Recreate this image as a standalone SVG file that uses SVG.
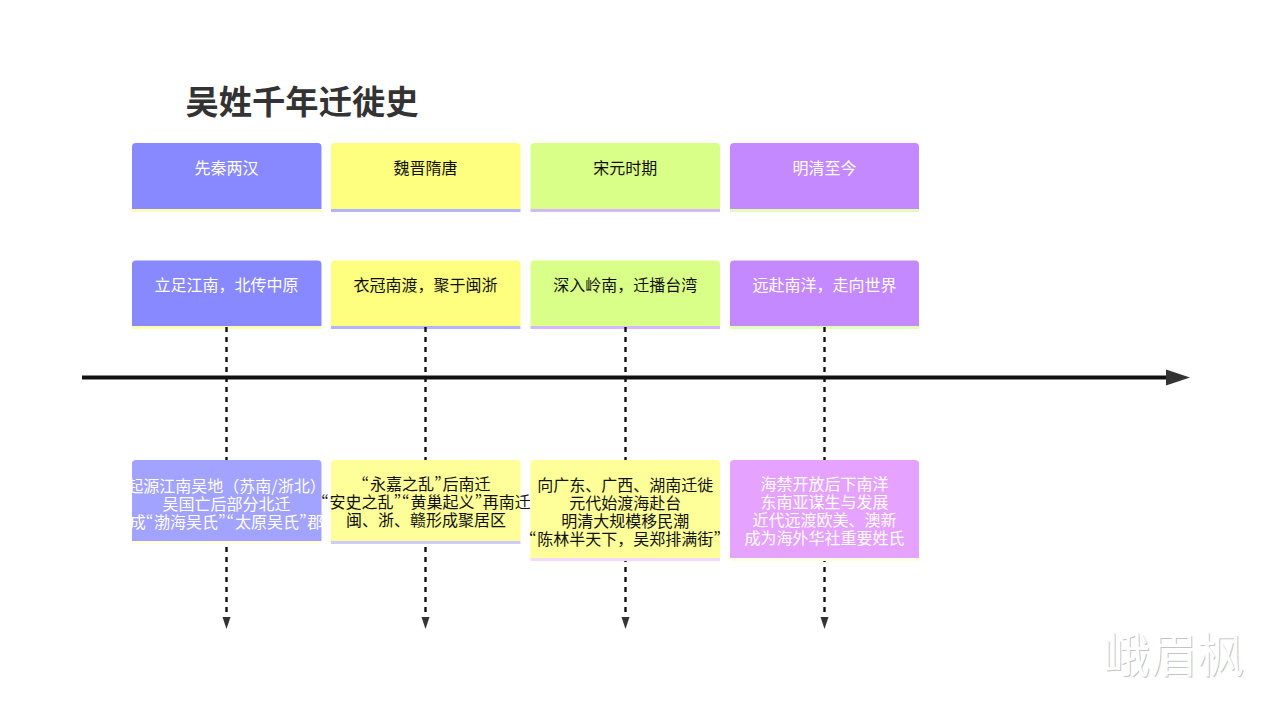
<svg xmlns="http://www.w3.org/2000/svg" width="1268" height="709" viewBox="0 0 1268 709">
<style>
text{font-family:"Noto Sans CJK SC","Noto Sans",sans-serif;font-size:16px;text-anchor:middle}
.w{fill:#fff}.k{fill:#111}
.q{font-feature-settings:"pwid";letter-spacing:.8px}
.dash{stroke:#111;stroke-width:2.400;stroke-dasharray:5 5;fill:none}
</style>
<rect width="1268" height="709" fill="#fff"/>
<text id="title" x="302" y="114" style="font-size:33.300px;font-weight:700;fill:#333">吴姓千年迁徙史</text>
<g id="n1"><rect x="132" y="209" width="189.500" height="3" fill="#ffffb3"/><path d="M132 209V147a4 4 0 0 1 4-4H317.500a4 4 0 0 1 4 4V209Z" fill="#8888ff"/><text class="w" x="226.500" y="174">先秦两汉</text></g>
<g id="n2"><rect x="331" y="209" width="189.500" height="3" fill="#b3b3ff"/><path d="M331 209V147a4 4 0 0 1 4-4H516.500a4 4 0 0 1 4 4V209Z" fill="#ffff7f"/><text class="k" x="425.500" y="174">魏晋隋唐</text></g>
<g id="n3"><rect x="530.500" y="209" width="189.500" height="3" fill="#d5b8ff"/><path d="M530.500 209V147a4 4 0 0 1 4-4H716a4 4 0 0 1 4 4V209Z" fill="#d9ff88"/><text class="k" x="625.300" y="174">宋元时期</text></g>
<g id="n4"><rect x="730" y="209" width="189" height="3" fill="#e3ffb8"/><path d="M730 209V147a4 4 0 0 1 4-4H915a4 4 0 0 1 4 4V209Z" fill="#c488ff"/><text class="w" x="824.500" y="174">明清至今</text></g>
<g id="n5"><rect x="132" y="326" width="189.500" height="3" fill="#ffffb3"/><path d="M132 326V264.500a4 4 0 0 1 4-4H317.500a4 4 0 0 1 4 4V326Z" fill="#8888ff"/><text class="w" x="226.500" y="291">立足江南，北传中原</text></g>
<g id="n6"><rect x="331" y="326" width="189.500" height="3" fill="#b3b3ff"/><path d="M331 326V264.500a4 4 0 0 1 4-4H516.500a4 4 0 0 1 4 4V326Z" fill="#ffff7f"/><text class="k" x="425.500" y="291">衣冠南渡，聚于闽浙</text></g>
<g id="n7"><rect x="530.500" y="326" width="189.500" height="3" fill="#d5b8ff"/><path d="M530.500 326V264.500a4 4 0 0 1 4-4H716a4 4 0 0 1 4 4V326Z" fill="#d9ff88"/><text class="k" x="625.300" y="291">深入岭南，迁播台湾</text></g>
<g id="n8"><rect x="730" y="326" width="189" height="3" fill="#e3ffb8"/><path d="M730 326V264.500a4 4 0 0 1 4-4H915a4 4 0 0 1 4 4V326Z" fill="#c488ff"/><text class="w" x="824.500" y="291">远赴南洋，走向世界</text></g>
<g id="connectors">
<path class="dash" d="M226.500 327V617"/>
<path class="dash" d="M425.500 327V617"/>
<path class="dash" d="M625.500 327V617"/>
<path class="dash" d="M824.500 327V617"/>
<path d="M222.500 617H230.500L226.500 629Z" fill="#333"/>
<path d="M421.500 617H429.500L425.500 629Z" fill="#333"/>
<path d="M621.500 617H629.500L625.500 629Z" fill="#333"/>
<path d="M820.500 617H828.500L824.500 629Z" fill="#333"/>
<path d="M82 377.500H1167" stroke="#111" stroke-width="4" fill="none"/>
<path d="M1166 369.500L1190 377.500L1166 385.500Z" fill="#333"/>
</g>
<g id="n9"><rect x="132" y="541" width="189.500" height="3" fill="#ffffdd"/><path d="M132 541V464a4 4 0 0 1 4-4H317.500a4 4 0 0 1 4 4V541Z" fill="#a2a2ff"/>
<text class="w" x="226.500" y="492">起源江南吴地（苏南/浙北）</text><text class="w" x="226.500" y="510">吴国亡后部分北迁</text><text class="w" x="226.500" y="527.500">成<tspan class="q">“</tspan>渤海吴氏<tspan class="q">”“</tspan>太原吴氏<tspan class="q">”</tspan>郡</text></g>
<g id="n10"><rect x="331" y="541" width="189.500" height="3" fill="#ccccff"/><path d="M331 541V464a4 4 0 0 1 4-4H516.500a4 4 0 0 1 4 4V541Z" fill="#ffff99"/>
<text class="k" x="426" y="490"><tspan class="q">“</tspan>永嘉之乱<tspan class="q">”</tspan>后南迁</text><text class="k" x="426" y="508"><tspan class="q">“</tspan>安史之乱<tspan class="q">”“</tspan>黄巢起义<tspan class="q">”</tspan>再南迁</text><text class="k" x="426" y="526">闽、浙、赣形成聚居区</text></g>
<g id="n11"><rect x="530.500" y="558" width="189.500" height="3" fill="#f3d9ff"/><path d="M530.500 558V464a4 4 0 0 1 4-4H716a4 4 0 0 1 4 4V558Z" fill="#ffff99"/>
<text class="k" x="625.300" y="491">向广东、广西、湖南迁徙</text><text class="k" x="625.300" y="509">元代始渡海赴台</text><text class="k" x="625.300" y="527">明清大规模移民潮</text><text class="k" x="625.300" y="544.500"><tspan class="q">“</tspan>陈林半天下，吴郑排满街<tspan class="q">”</tspan></text></g>
<g id="n12"><rect x="730" y="558" width="189" height="3" fill="#fffde0"/><path d="M730 558V464a4 4 0 0 1 4-4H915a4 4 0 0 1 4 4V558Z" fill="#e6a2ff"/>
<text class="w" x="824.500" y="490">海禁开放后下南洋</text><text class="w" x="824.500" y="508">东南亚谋生与发展</text><text class="w" x="824.500" y="526">近代远渡欧美、澳新</text><text class="w" x="824.500" y="543.500">成为海外华社重要姓氏</text></g>
<g id="watermark">
<text x="1174.500" y="673" style="font-size:47px;fill:#c4c4c4">峨眉枫</text>
<text x="1173.500" y="672" style="font-size:47px;fill:#fff">峨眉枫</text>
</g>
</svg>
